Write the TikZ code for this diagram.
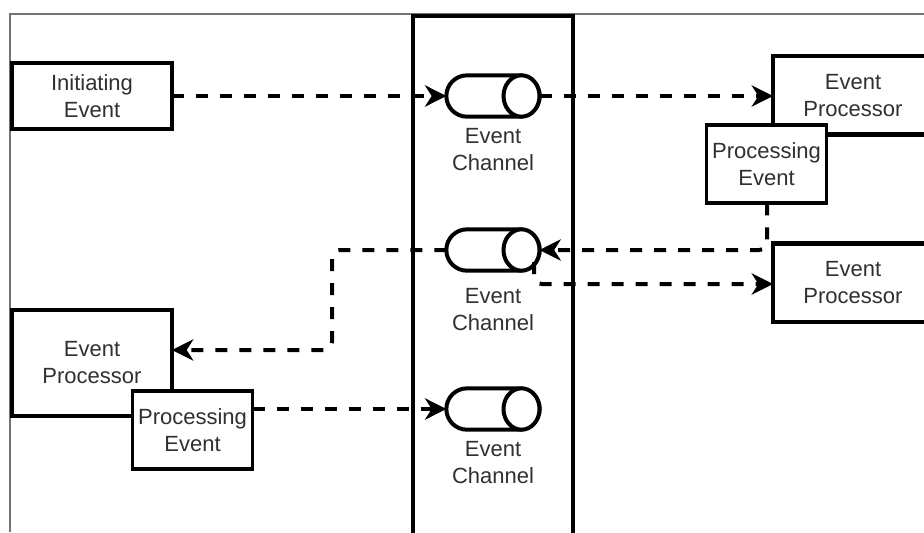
\documentclass[tikz,border=0pt]{standalone}
\usepackage{fontspec}
\setmainfont{Liberation Sans}
\usetikzlibrary{arrows.meta,shapes.geometric}
\definecolor{txt}{HTML}{303030}
\tikzset{
  x=0.75pt,y=-0.75pt,
  every node/.style={font=\fontsize{16.5pt}{20.25pt}\selectfont,text=txt,align=center,inner sep=0pt,outer sep=0pt},
  bigbox/.style={draw=black,fill=white,line width=3.4pt,minimum width=120pt,anchor=north west},
  procbox/.style={draw=black,fill=white,line width=2.8pt,minimum width=90pt,minimum height=59pt},
  cylbody/.style={draw=black,fill=white,line width=3pt,rounded corners=15.5pt,minimum width=70pt,minimum height=31pt},
  cylend/.style={draw=black,fill=white,line width=3pt,ellipse,minimum width=27pt,minimum height=31pt},
  lane/.style={draw=black,line width=3pt},
  flow/.style={line width=3pt,dash pattern=on 9pt off 9pt,rounded corners=6pt,-{Stealth[length=16pt,width=16pt,inset=5pt]}},
}
\begin{document}
\begin{tikzpicture}
\useasboundingbox (0,0) rectangle (924,532);
\clip (0,0) rectangle (924,532);
\fill[white] (0,0) rectangle (924,532);
\draw[draw=black!55,line width=0.9pt] (10,532) -- (10,14) -- (924,14);
\draw[lane] (413,545) -- (413,16) -- (573,16) -- (573,545);

\node[cylbody] (c1) at (493,96) {};
\node[cylend] (e1) at (521.5,96) {};
\node (l1) at (493,150) {Event\\Channel};
\node[cylbody] (c2) at (493,250) {};
\node[cylend] (e2) at (521.5,250) {};
\node (l2) at (493,310) {Event\\Channel};
\node[cylbody] (c3) at (493,409) {};
\node[cylend] (e3) at (521.5,409) {};
\node (l3) at (493,463) {Event\\Channel};

\node[bigbox,minimum height=49.5pt] (init) at (12,63) {Initiating\\Event};
\node[bigbox,minimum height=59pt] (ep1) at (773,56) {Event\\Processor};
\node[bigbox,minimum height=59pt] (ep2) at (773,243.5) {Event\\Processor};
\node[bigbox,minimum height=79.5pt] (ep3) at (12,310) {Event\\Processor};
\node[procbox] (p1) at (766.5,164) {Processing\\Event};
\node[procbox] (p3) at (192.5,430) {Processing\\Event};

\coordinate (bendA) at (767,250);
\coordinate (bendB) at (332,250);
\coordinate (bendC) at (332,350);
\coordinate (t3) at (ep3.east |- bendC);
\coordinate (tapA) at (534,262);
\coordinate (tapB) at (534,284);
\coordinate (t2) at (ep2.west |- tapB);
\coordinate (s3) at (p3.east |- c3);

\draw[flow] (init.east) -- (c1.west);
\draw[flow] (e1.east) -- (ep1.west |- e1.east);
\draw[flow] (p1.south -| bendA) -- (bendA) -- (e2.east);
\draw[flow] (c2.west) -- (bendB) -- (bendC) -- (t3);
\draw[flow] (tapA) -- (tapB) -- (t2);
\draw[flow] (s3) -- (c3.west);
\end{tikzpicture}
\end{document}
